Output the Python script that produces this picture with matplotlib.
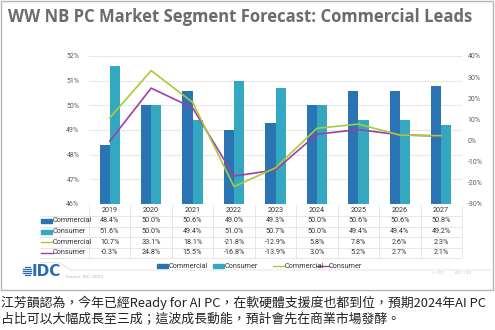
import numpy as np
import matplotlib.pyplot as plt
from matplotlib.patches import Rectangle
from matplotlib.lines import Line2D
from matplotlib.transforms import blended_transform_factory

years = ['2019', '2020', '2021', '2022', '2023', '2024', '2025', '2026', '2027']
share_commercial = [48.4, 50.0, 50.6, 49.0, 49.3, 50.0, 50.6, 50.6, 50.8]
share_consumer = [51.6, 50.0, 49.4, 51.0, 50.7, 50.0, 49.4, 49.4, 49.2]
growth_commercial = [10.7, 33.1, 18.1, -21.8, -12.9, 5.8, 7.8, 2.6, 2.3]
growth_consumer = [-0.3, 24.8, 15.5, -16.8, -13.9, 3.0, 5.2, 2.7, 2.1]

left_ticks = [46, 47, 48, 49, 50, 51, 52]
right_ticks = [-30, -20, -10, 0, 10, 20, 30, 40]

c_com = '#2a74b4'
c_con = '#34a8c0'
c_gcom = '#a8cb3c'
c_gcon = '#a03ea6'
grey = '#5a5a5a'
tfont = 'Roboto'

W, H = 495, 330
fig = plt.figure(figsize=(W / 100, H / 100), dpi=100)


def fx(px):
    return px / W


def fy(py):
    return 1 - py / H


# frame around the slide
fig.patches.append(Rectangle((fx(1), fy(290)), fx(492), 289 / H, transform=fig.transFigure,
                             fill=False, edgecolor='#b4b4b4', lw=1))

fig.text(fx(8), fy(17), 'WW NB PC Market Segment Forecast: Commercial Leads',
         family='Open Sans', weight='bold', fontsize=12, color='#6a6b6e', va='center')

ax = fig.add_axes([fx(89), fy(204), fx(373), 148 / H])
x = np.arange(len(years))
bw = 0.245
ax.bar(x - bw / 2, share_commercial, bw, color=c_com, zorder=2)
ax.bar(x + bw / 2, share_consumer, bw, color=c_con, zorder=2)
ax.set_xlim(-0.5, len(years) - 0.5)
ax.set_ylim(46, 52)
ax.set_yticks(left_ticks)
ax.set_yticklabels([f'{v}%' for v in left_ticks], family=tfont)
ax.set_xticks([])
ax.grid(axis='y', color='#e8e8e8', lw=0.8, zorder=0)
ax.tick_params(axis='y', length=0, labelsize=5, labelcolor=grey, pad=7)

ax2 = ax.twinx()
ax2.plot(x, growth_consumer, color=c_gcon, lw=1.2, zorder=3)
ax2.plot(x, growth_commercial, color=c_gcom, lw=1.2, zorder=3)
ax2.set_ylim(-30, 40)
ax2.set_yticks(right_ticks)
ax2.set_yticklabels([f'{v}%' for v in right_ticks], family=tfont)
ax2.tick_params(axis='y', length=0, labelsize=5, labelcolor=grey, pad=4)
for a in (ax, ax2):
    for s in a.spines.values():
        s.set_visible(False)

# data table under the chart
tr = blended_transform_factory(ax.transData, fig.transFigure)
row_y = [221, 231.5, 242, 252.5]
rows = [share_commercial, share_consumer, growth_commercial, growth_consumer]
fs = 5.2
for i, yr in enumerate(years):
    fig.text(i, fy(211), yr, transform=tr, ha='center', va='center', fontsize=fs,
             color='#333333', family=tfont)
    for ry, vals in zip(row_y, rows):
        fig.text(i, fy(ry), f'{vals[i]:.1f}%', transform=tr, ha='center', va='center',
                 fontsize=fs, color='#333333', family=tfont)
for b in np.arange(-0.5, len(years)):
    fig.add_artist(Line2D([b, b], [fy(205), fy(258)], transform=tr, color='#e2e2e2', lw=0.6))
for ly in [216, 226.5, 237, 247.5, 258]:
    fig.add_artist(Line2D([fx(40), fx(462)], [fy(ly), fy(ly)], transform=fig.transFigure,
                          color='#e2e2e2', lw=0.6))

row_names = ['Commercial', 'Consumer', 'Commercial', 'Consumer']
row_kinds = [('bar', c_com), ('bar', c_con), ('line', c_gcom), ('line', c_gcon)]


def swatch(px, py, kind, color):
    if kind == 'bar':
        fig.patches.append(Rectangle((fx(px), fy(py + 2)), fx(11), 4 / H,
                                     transform=fig.transFigure, color=color))
    else:
        fig.add_artist(Line2D([fx(px), fx(px + 12)], [fy(py), fy(py)],
                              transform=fig.transFigure, color=color, lw=1))


for ry, name, (kind, col) in zip(row_y, row_names, row_kinds):
    swatch(41, ry, kind, col)
    fig.text(fx(53), fy(ry), name, fontsize=fs, color='#333333', va='center', family=tfont)

# legend
leg_items = [(157, 'Commercial', 'bar', c_com), (213, 'Consumer', 'bar', c_con),
             (273, 'Commercial', 'line', c_gcom), (317, 'Consumer', 'line', c_gcon)]
for px, name, kind, col in leg_items:
    swatch(px, 266, kind, col)
    fig.text(fx(px + 12), fy(266), name, fontsize=fs, color='#333333', va='center', family=tfont)

# footer
fig.add_artist(Line2D([fx(40), fx(60), fx(70), fx(490)], [fy(262), fy(263), fy(270), fy(270)],
                      transform=fig.transFigure, color='#e0e0e0', lw=0.6))
for k, dy in enumerate([-4, -2, 0, 2, 4]):
    hw = [2.5, 4, 4.5, 4, 2.5][k]
    fig.add_artist(Line2D([fx(27 - hw), fx(27 + hw)], [fy(271 + dy), fy(271 + dy)],
                          transform=fig.transFigure, color='#2a6db5', lw=0.9))
fig.text(fx(32), fy(271), 'IDC', fontsize=11, weight='bold', color='#2a6db5', va='center',
         family='DejaVu Sans')
fig.text(fx(66), fy(277), 'Source: IDC, 2023', fontsize=3, color='#b0b0b0', va='center')
fig.text(fx(432), fy(273), '© IDC', fontsize=3, color='#c0c0c0', va='center')
fig.text(fx(455), fy(273), 'IDC | 25', fontsize=3, color='#c0c0c0', va='center')

cjk = ['Noto Sans CJK TC', 'DejaVu Sans']
fig.text(fx(1), fy(303), '江芳韻認為，今年已經Ready for AI PC，在軟硬體支援度也都到位，預期2024年AI PC',
         family=cjk, fontsize=9.3, color='#222222', va='center')
fig.text(fx(1), fy(319), '占比可以大幅成長至三成；這波成長動能，預計會先在商業市場發酵。',
         family=cjk, fontsize=9.3, color='#222222', va='center')

fig.savefig('out.png', dpi=100)
